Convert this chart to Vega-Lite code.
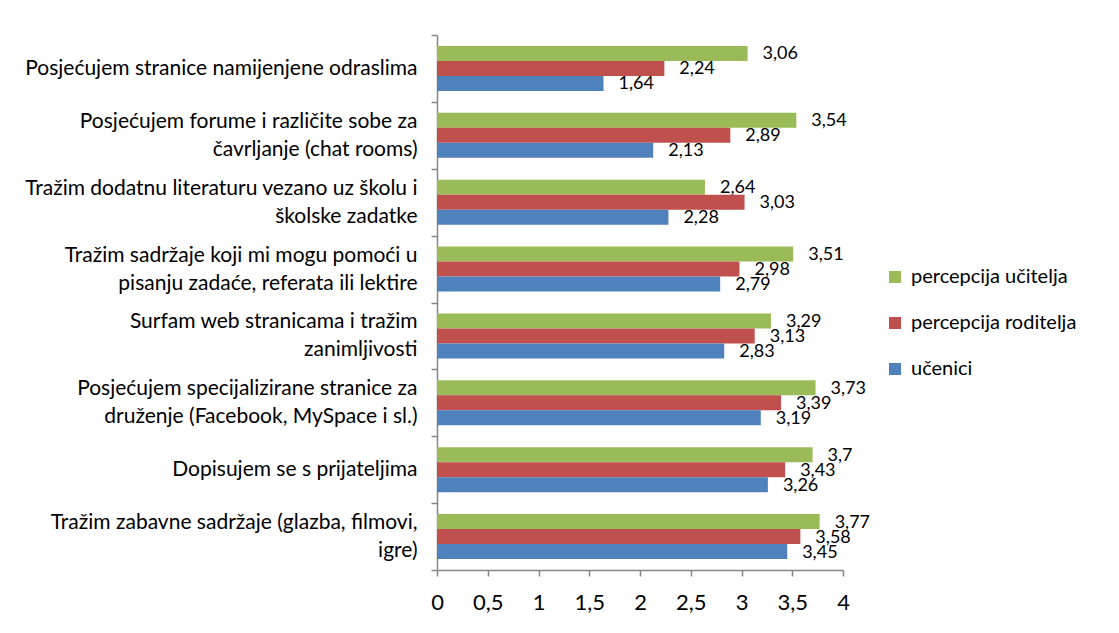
{
  "$schema": "https://vega.github.io/schema/vega-lite/v6.json",
  "autosize": "none",
  "width": 406,
  "height": 535,
  "padding": {"left": 437, "top": 35, "right": 276, "bottom": 63},
  "background": "white",
  "config": {
    "font": "Lato",
    "view": {"stroke": null},
    "locale": {"number": {"decimal": ",", "thousands": ".", "grouping": [3], "currency": ["", " kn"]}}
  },
  "data": {"values": [
    {"cat": "Posjećujem stranice namijenjene odraslima", "series": "percepcija učitelja", "value": 3.06},
    {"cat": "Posjećujem stranice namijenjene odraslima", "series": "percepcija roditelja", "value": 2.24},
    {"cat": "Posjećujem stranice namijenjene odraslima", "series": "učenici", "value": 1.64},
    {"cat": "Posjećujem forume i različite sobe za|čavrljanje (chat rooms)", "series": "percepcija učitelja", "value": 3.54},
    {"cat": "Posjećujem forume i različite sobe za|čavrljanje (chat rooms)", "series": "percepcija roditelja", "value": 2.89},
    {"cat": "Posjećujem forume i različite sobe za|čavrljanje (chat rooms)", "series": "učenici", "value": 2.13},
    {"cat": "Tražim dodatnu literaturu vezano uz školu i|školske zadatke", "series": "percepcija učitelja", "value": 2.64},
    {"cat": "Tražim dodatnu literaturu vezano uz školu i|školske zadatke", "series": "percepcija roditelja", "value": 3.03},
    {"cat": "Tražim dodatnu literaturu vezano uz školu i|školske zadatke", "series": "učenici", "value": 2.28},
    {"cat": "Tražim sadržaje koji mi mogu pomoći u|pisanju zadaće, referata ili lektire", "series": "percepcija učitelja", "value": 3.51},
    {"cat": "Tražim sadržaje koji mi mogu pomoći u|pisanju zadaće, referata ili lektire", "series": "percepcija roditelja", "value": 2.98},
    {"cat": "Tražim sadržaje koji mi mogu pomoći u|pisanju zadaće, referata ili lektire", "series": "učenici", "value": 2.79},
    {"cat": "Surfam web stranicama i tražim|zanimljivosti", "series": "percepcija učitelja", "value": 3.29},
    {"cat": "Surfam web stranicama i tražim|zanimljivosti", "series": "percepcija roditelja", "value": 3.13},
    {"cat": "Surfam web stranicama i tražim|zanimljivosti", "series": "učenici", "value": 2.83},
    {"cat": "Posjećujem specijalizirane stranice za|druženje (Facebook, MySpace i sl.)", "series": "percepcija učitelja", "value": 3.73},
    {"cat": "Posjećujem specijalizirane stranice za|druženje (Facebook, MySpace i sl.)", "series": "percepcija roditelja", "value": 3.39},
    {"cat": "Posjećujem specijalizirane stranice za|druženje (Facebook, MySpace i sl.)", "series": "učenici", "value": 3.19},
    {"cat": "Dopisujem se s prijateljima", "series": "percepcija učitelja", "value": 3.7},
    {"cat": "Dopisujem se s prijateljima", "series": "percepcija roditelja", "value": 3.43},
    {"cat": "Dopisujem se s prijateljima", "series": "učenici", "value": 3.26},
    {"cat": "Tražim zabavne sadržaje (glazba, filmovi,|igre)", "series": "percepcija učitelja", "value": 3.77},
    {"cat": "Tražim zabavne sadržaje (glazba, filmovi,|igre)", "series": "percepcija roditelja", "value": 3.58},
    {"cat": "Tražim zabavne sadržaje (glazba, filmovi,|igre)", "series": "učenici", "value": 3.45}
  ]},
  "encoding": {
    "y": {
      "field": "cat", "type": "nominal", "sort": null,
      "scale": {"paddingInner": 0, "paddingOuter": 0},
      "axis": {
        "title": null,
        "labelExpr": "split(datum.label, '|')",
        "labelFontSize": 21,
        "labelColor": "black",
        "labelLineHeight": 28,
        "labelPadding": 14,
        "labelLimit": 0,
        "labelOffset": {"condition": {"test": "isString(datum.value) && indexof(datum.value, '|') >= 0", "value": -14}, "value": 0},
        "tickBand": "extent",
        "tickSize": 6,
        "tickColor": "#868686",
        "domainColor": "#868686",
        "tickWidth": 1.5,
        "domainWidth": 1.5
      }
    },
    "yOffset": {
      "field": "series", "type": "nominal",
      "sort": ["percepcija učitelja", "percepcija roditelja", "učenici"],
      "scale": {"paddingInner": 0, "paddingOuter": 0.73}
    },
    "x": {
      "field": "value", "type": "quantitative",
      "scale": {"domain": [0, 4], "nice": false},
      "axis": {
        "title": null,
        "values": [0, 0.5, 1, 1.5, 2, 2.5, 3, 3.5, 4],
        "format": "~g",
        "grid": false,
        "labelFontSize": 22,
        "labelColor": "black",
        "labelPadding": 16,
        "tickSize": 6,
        "tickColor": "#868686",
        "domainColor": "#868686",
        "tickWidth": 1.5,
        "domainWidth": 1.5,
        "labelFlush": false
      }
    }
  },
  "layer": [
    {
      "mark": {"type": "bar"},
      "encoding": {
        "color": {
          "field": "series", "type": "nominal",
          "sort": ["percepcija učitelja", "percepcija roditelja", "učenici"],
          "scale": {"domain": ["percepcija učitelja", "percepcija roditelja", "učenici"], "range": ["#9BBB59", "#C0504D", "#4F81BD"]},
          "legend": {
            "title": null,
            "orient": "none",
            "legendX": 448,
            "legendY": 232,
            "padding": 0,
            "symbolType": "square",
            "symbolSize": 144,
            "symbolStrokeWidth": 0,
            "labelFontSize": 20,
            "labelColor": "black",
            "labelOffset": 6,
            "rowPadding": 26,
            "labelLimit": 0
          }
        }
      }
    },
    {
      "mark": {"type": "text", "align": "left", "baseline": "middle", "dx": 15, "dy": 1, "fontSize": 18, "color": "black"},
      "encoding": {
        "text": {"field": "value", "type": "quantitative", "format": "~g"}
      }
    }
  ]
}
